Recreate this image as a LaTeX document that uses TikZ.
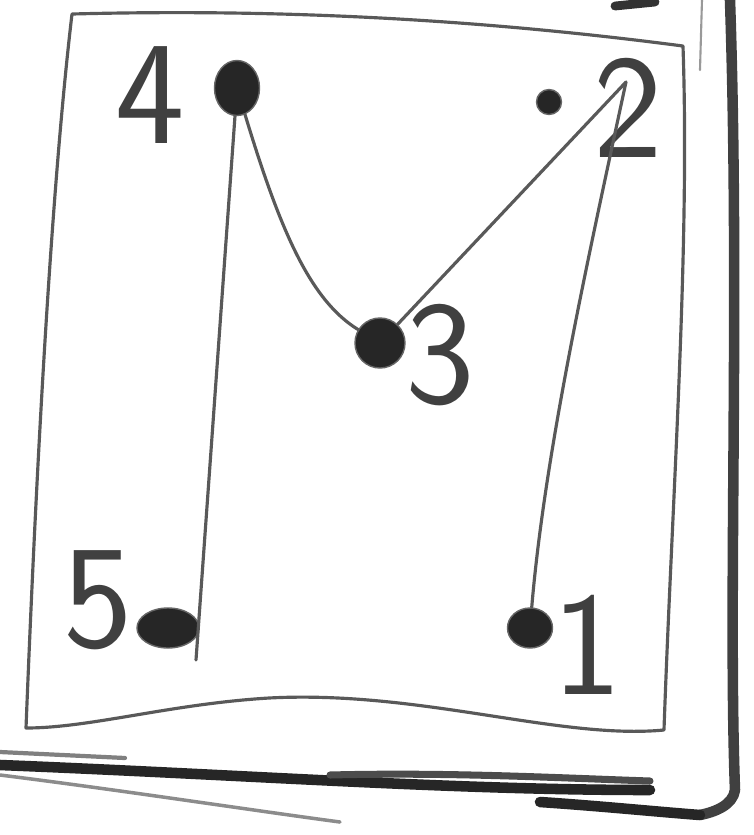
\documentclass[tikz,border=0pt]{standalone}
\usepackage{xcolor}
\usepackage{tikz}
\usetikzlibrary{positioning}
\usetikzlibrary{shapes.geometric}

\begin{document}
\begin{tikzpicture}[x=0.01cm, y=-0.01cm, every node/.style={font=\sffamily\fontsize{42}{42}\selectfont, text=black!75}, pencil/.style={draw=black!65, line width=0.9pt, line cap=round, line join=round}, blob/.style={ellipse, fill=black!85, draw=black!60, inner sep=0pt}]

\useasboundingbox (0,0) rectangle (753,835);

\draw[pencil] (72,14) .. controls (300,8) and (500,22) .. (683,46) .. controls (690,250) and (672,500) .. (664,730) .. controls (560,740) and (420,690) .. (269,698) .. controls (170,704) and (90,728) .. (26,728) .. controls (35,500) and (50,200) .. (72,14);

\draw[pencil, line width=0.6pt, draw=black!40] (702,0) -- (700,70);
\draw[pencil, line width=3pt, draw=black!75] (730,0) .. controls (740,300) and (728,600) .. (735,790) .. controls (733,805) and (715,812) .. (700,815);
\draw[pencil, line width=2.5pt, draw=black!80] (615,6) -- (655,2);
\draw[pencil, line width=3pt, draw=black!85] (0,765) .. controls (250,775) and (450,790) .. (650,790);
\draw[pencil, line width=2pt, draw=black!70] (330,775) .. controls (450,772) and (560,778) .. (650,781);
\draw[pencil, line width=3pt, draw=black!85] (540,802) .. controls (600,806) and (660,812) .. (700,815);
\draw[pencil, line width=1.2pt, draw=black!50] (0,752) -- (125,758);
\draw[pencil, line width=1pt, draw=black!45] (0,775) .. controls (120,790) and (250,810) .. (340,822);

\node (p4) [blob, minimum width=0.45cm, minimum height=0.55cm] at (237,88) {};
\node (pa) [blob, minimum width=0.25cm, minimum height=0.25cm] at (549,102) {};
\node (p3) [blob, minimum width=0.5cm, minimum height=0.5cm] at (380,343) {};
\node (p5) [blob, minimum width=0.62cm, minimum height=0.4cm] at (168,628) {};
\node (p1) [blob, minimum width=0.45cm, minimum height=0.4cm] at (530,628) {};

\node (l4) at (150,95) {4};
\node (l2) at (628,108) {2};
\node (l3) at (440,355) {3};
\node (l5) at (98,600) {5};
\node (l1) at (587,645) {1};

\coordinate (v2) at (626,82);
\coordinate (e5) at (196,660);

\draw[pencil] (p4) -- (e5);
\draw[pencil] (p4) .. controls (280,230) and (310,300) .. (p3);
\draw[pencil] (p3) -- (v2);
\draw[pencil] (v2) .. controls (590,250) and (545,450) .. (p1);

\end{tikzpicture}
\end{document}
